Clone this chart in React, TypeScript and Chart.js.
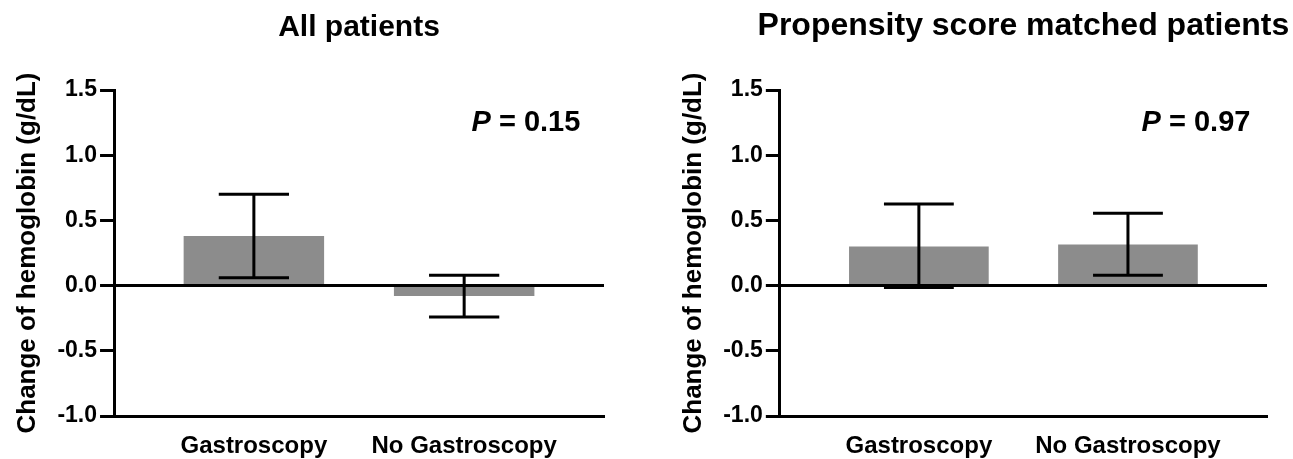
import React, { useEffect, useRef } from "react";
import { Chart, registerables } from "chart.js";

Chart.register(...registerables);

const categories = ["Gastroscopy", "No Gastroscopy"];
const yTicks = [-1.0, -0.5, 0.0, 0.5, 1.0, 1.5];
const yLabel = "Change of hemoglobin (g/dL)";

const allTitle = "All patients";
const allMeans = [0.38, -0.08];
const allErrLow = [0.06, -0.24];
const allErrHigh = [0.7, 0.08];
const allP = "0.15";

const matchedTitle = "Propensity score matched patients";
const matchedMeans = [0.3, 0.315];
const matchedErrLow = [-0.015, 0.08];
const matchedErrHigh = [0.625, 0.555];
const matchedP = "0.97";

const FONT = "'Liberation Sans', Arial, Helvetica, sans-serif";
const BAR_COLOR = "#8c8c8c";

type PanelProps = {
  title: string;
  titleSize: number;
  titleBaseline: number;
  means: number[];
  errLow: number[];
  errHigh: number[];
  pText: string;
  width: number;
  height: number;
  padLeft: number;
  padRight: number;
  pX: number;
};

function Panel(props: PanelProps) {
  const ref = useRef<HTMLCanvasElement | null>(null);
  useEffect(() => {
    const canvas = ref.current;
    if (!canvas) return;

    const decorations = {
      id: "decorations",
      afterDatasetsDraw(chart: any) {
        const ctx = chart.ctx;
        const meta = chart.getDatasetMeta(0);
        const y = chart.scales.y;
        ctx.save();
        ctx.strokeStyle = "#000";
        ctx.lineWidth = 3;
        ctx.lineCap = "butt";
        meta.data.forEach((bar: any, i: number) => {
          const x = bar.x;
          const half = bar.width * 0.25;
          const yh = y.getPixelForValue(props.errHigh[i]);
          const yl = y.getPixelForValue(props.errLow[i]);
          ctx.beginPath();
          ctx.moveTo(x, yh);
          ctx.lineTo(x, yl);
          ctx.moveTo(x - half, yh);
          ctx.lineTo(x + half, yh);
          ctx.moveTo(x - half, yl);
          ctx.lineTo(x + half, yl);
          ctx.stroke();
        });
        ctx.restore();
      },
      afterDraw(chart: any) {
        const ctx = chart.ctx;
        const xs = chart.scales.x;
        const ys = chart.scales.y;
        const area = chart.chartArea;
        ctx.save();
        ctx.fillStyle = "#000";
        // panel title, centred over the plot area
        ctx.textBaseline = "alphabetic";
        ctx.textAlign = "center";
        ctx.font = `bold ${props.titleSize}px ${FONT}`;
        ctx.fillText(props.title, (area.left + area.right) / 2, props.titleBaseline);
        // P value annotation
        const px = xs.getPixelForValue(props.pX);
        const py = ys.getPixelForValue(1.185);
        ctx.textAlign = "left";
        ctx.font = `italic bold 29px ${FONT}`;
        ctx.fillText("P", px, py);
        const w = ctx.measureText("P").width;
        ctx.font = `bold 29px ${FONT}`;
        ctx.fillText(" = " + props.pText, px + w, py);
        ctx.restore();
      },
    };

    const chart = new Chart(canvas, {
      type: "bar",
      data: {
        datasets: [
          {
            data: props.means.map((v, i) => ({ x: i, y: v })),
            backgroundColor: BAR_COLOR,
            borderWidth: 0,
            barPercentage: 0.668,
            categoryPercentage: 1,
          },
        ],
      },
      options: {
        responsive: false,
        animation: false,
        devicePixelRatio: 1,
        layout: {
          padding: { left: props.padLeft, right: props.padRight, top: 90, bottom: 0 },
        },
        plugins: {
          legend: { display: false },
          tooltip: { enabled: false },
          title: { display: false },
        },
        scales: {
          x: {
            type: "linear",
            offset: false,
            min: -0.665,
            max: 1.665,
            afterBuildTicks: (scale: any) => {
              scale.ticks = categories.map((_, i) => ({ value: i }));
            },
            grid: { display: false, drawTicks: false, offset: false },
            border: { display: true, color: "#000", width: 3 },
            ticks: {
              autoSkip: false,
              maxRotation: 0,
              padding: 15.6,
              color: "#000",
              font: { family: FONT, size: 24, weight: "bold" },
              callback: (v: any) => categories[Number(v)] ?? "",
            },
          },
          y: {
            min: -1,
            max: 1.5,
            afterBuildTicks: (scale: any) => {
              scale.ticks = yTicks.map((v) => ({ value: v }));
            },
            grid: {
              z: 1,
              color: (c: any) => (c.tick && c.tick.value === 0 ? "#000" : "rgba(0,0,0,0)"),
              lineWidth: 3,
              tickColor: "#000",
              tickLength: 14,
              tickWidth: 3,
              drawTicks: true,
            },
            border: { display: true, color: "#000", width: 3, z: 2 },
            ticks: {
              padding: 3,
              color: "#000",
              font: { family: FONT, size: 23, weight: "bold" },
              callback: (v: any) => Number(v).toFixed(1),
            },
            title: {
              display: true,
              text: yLabel,
              color: "#000",
              font: { family: FONT, size: 26, weight: "bold" },
              padding: { top: 0, bottom: 11 },
            },
          },
        },
      },
      plugins: [decorations],
    } as any);
    return () => chart.destroy();
  }, []);
  return <canvas ref={ref} width={props.width} height={props.height} style={{ display: "block" }} />;
}

export default function App() {
  return (
    <div
      style={{
        position: "absolute",
        left: 0,
        top: 0,
        width: 1293,
        height: 459,
        overflow: "hidden",
        background: "#fff",
        display: "flex",
        alignItems: "flex-start",
      }}
    >
      <Panel
        title={allTitle}
        titleSize={30}
        titleBaseline={36}
        means={allMeans}
        errLow={allErrLow}
        errHigh={allErrHigh}
        pText={allP}
        width={646}
        height={476}
        padLeft={12.2}
        padRight={42}
        pX={1.035}
      />
      <Panel
        title={matchedTitle}
        titleSize={32}
        titleBaseline={35}
        means={matchedMeans}
        errLow={matchedErrLow}
        errHigh={matchedErrHigh}
        pText={matchedP}
        width={647}
        height={476}
        padLeft={32}
        padRight={26}
        pX={1.065}
      />
    </div>
  );
}
